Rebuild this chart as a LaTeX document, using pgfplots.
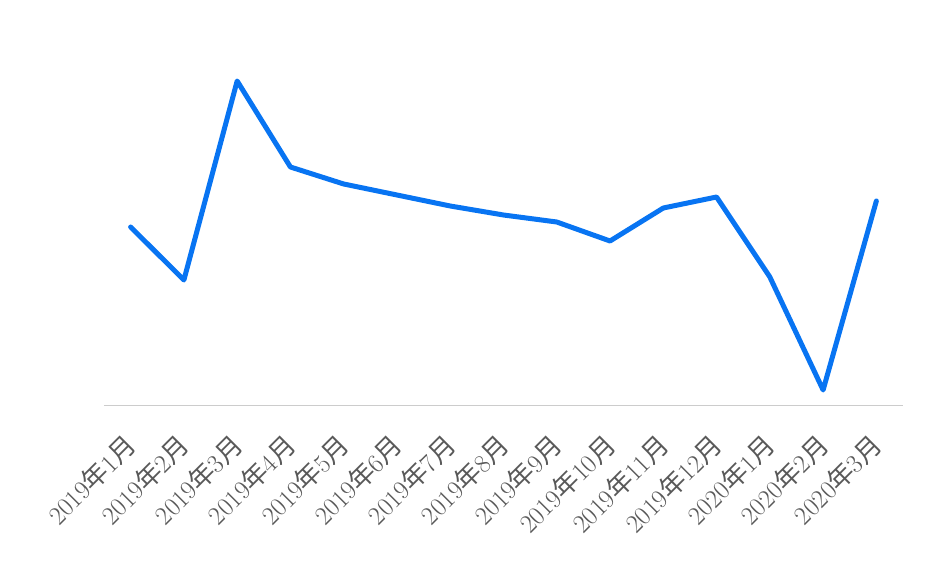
\documentclass[border=0pt]{standalone}
\usepackage{pgfplots}
\pgfplotsset{compat=1.18}
\usepackage{fontspec}
\newfontfamily\cjk{Noto Sans CJK SC}
\definecolor{lineblue}{RGB}{8,116,242}
\definecolor{lblgray}{RGB}{89,89,89}
\definecolor{axgray}{RGB}{204,204,204}
\begin{document}
\begin{tikzpicture}[x=1pt,y=1pt]
\begin{axis}[
  at={(0,0)}, anchor=south west,
  scale only axis, width=799pt, height=385pt,
  xmin=-0.5, xmax=14.5, ymin=0, ymax=385,
  axis x line=bottom, axis y line=none,
  axis line style={-, axgray, line width=1pt},
  xtick={0,...,14}, major tick length=0pt,
  xticklabels={2019{\cjk 年}1{\cjk 月},2019{\cjk 年}2{\cjk 月},2019{\cjk 年}3{\cjk 月},2019{\cjk 年}4{\cjk 月},2019{\cjk 年}5{\cjk 月},2019{\cjk 年}6{\cjk 月},2019{\cjk 年}7{\cjk 月},2019{\cjk 年}8{\cjk 月},2019{\cjk 年}9{\cjk 月},2019{\cjk 年}10{\cjk 月},2019{\cjk 年}11{\cjk 月},2019{\cjk 年}12{\cjk 月},2020{\cjk 年}1{\cjk 月},2020{\cjk 年}2{\cjk 月},2020{\cjk 年}3{\cjk 月}},
  xticklabel style={rotate=45, anchor=north east, font=\fontsize{26}{30}\selectfont, text=lblgray, inner sep=0pt, xshift=-24.5pt, yshift=-13pt},
  clip=false,
]
\addplot[lineblue, line width=5pt, line join=round, line cap=round] coordinates {
(0,178) (1,125) (2,324) (3,238) (4,221) (5,210) (6,199) (7,190) (8,183) (9,164) (10,197) (11,208) (12,128) (13,15) (14,204)
};
\end{axis}
\path (-104,-165) rectangle (830,405);
\end{tikzpicture}
\end{document}
